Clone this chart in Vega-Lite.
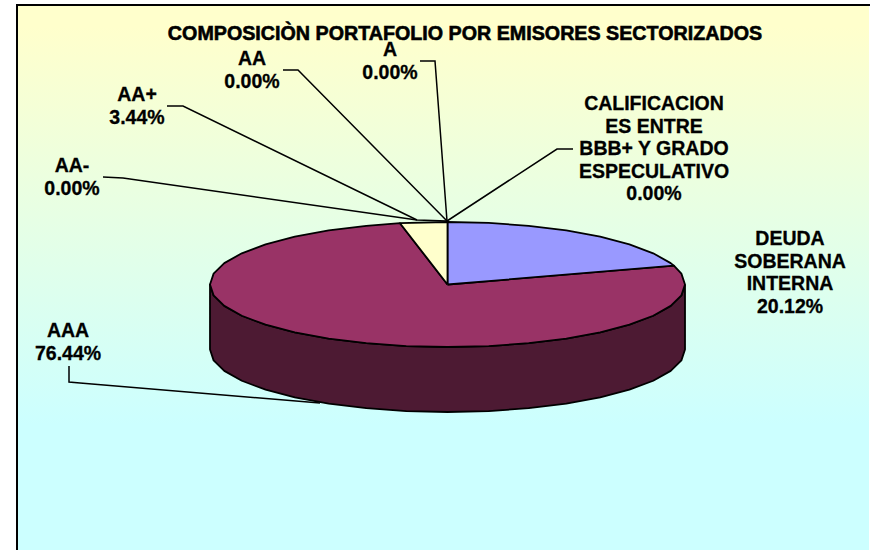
{
"$schema":"https://vega.github.io/schema/vega-lite/v6.json",
"width":870,"height":550,"padding":0,
"autosize":{"type":"none"},
"background":"white",
"config":{"view":{"stroke":null}},
"datasets":{
"panel":[{"x":17,"x2":869,"y":5,"y2":550}],
"wall":[
{"i":0,"x":685,"y":284.5},{"i":1,"x":681.4,"y":295.4},{"i":2,"x":670.7,"y":305.9},{"i":3,"x":653.2,"y":315.75},{"i":4,"x":629.4,"y":324.7},{"i":5,"x":600.2,"y":332.4},{"i":6,"x":566.3,"y":338.6},{"i":7,"x":528.7,"y":343.2},{"i":8,"x":488.7,"y":346.05},{"i":9,"x":447.5,"y":347},{"i":10,"x":406.3,"y":346.05},{"i":11,"x":366.3,"y":343.2},{"i":12,"x":328.7,"y":338.6},{"i":13,"x":294.8,"y":332.4},{"i":14,"x":265.6,"y":324.7},{"i":15,"x":241.8,"y":315.75},{"i":16,"x":224.3,"y":305.9},{"i":17,"x":213.6,"y":295.4},{"i":18,"x":210,"y":284.5},
{"i":19,"x":210,"y":349.5},{"i":20,"x":213.6,"y":360.4},{"i":21,"x":224.3,"y":370.9},{"i":22,"x":241.8,"y":380.75},{"i":23,"x":265.6,"y":389.7},{"i":24,"x":294.8,"y":397.4},{"i":25,"x":328.7,"y":403.6},{"i":26,"x":366.3,"y":408.2},{"i":27,"x":406.3,"y":411.05},{"i":28,"x":447.5,"y":412},{"i":29,"x":488.7,"y":411.05},{"i":30,"x":528.7,"y":408.2},{"i":31,"x":566.3,"y":403.6},{"i":32,"x":600.2,"y":397.4},{"i":33,"x":629.4,"y":389.7},{"i":34,"x":653.2,"y":380.75},{"i":35,"x":670.7,"y":370.9},{"i":36,"x":681.4,"y":360.4},{"i":37,"x":685,"y":349.5},{"i":38,"x":685,"y":284.5}],
"slices":[
{"slice":"AAA","i":0,"x":447.5,"y":284.5},{"slice":"AAA","i":1,"x":673.9,"y":265.6},{"slice":"AAA","i":2,"x":681.4,"y":273.6},{"slice":"AAA","i":3,"x":685,"y":284.5},{"slice":"AAA","i":4,"x":681.4,"y":295.4},{"slice":"AAA","i":5,"x":670.7,"y":305.9},{"slice":"AAA","i":6,"x":653.2,"y":315.75},{"slice":"AAA","i":7,"x":629.4,"y":324.7},{"slice":"AAA","i":8,"x":600.2,"y":332.4},{"slice":"AAA","i":9,"x":566.3,"y":338.6},{"slice":"AAA","i":10,"x":528.7,"y":343.2},{"slice":"AAA","i":11,"x":488.7,"y":346.05},{"slice":"AAA","i":12,"x":447.5,"y":347},{"slice":"AAA","i":13,"x":406.3,"y":346.05},{"slice":"AAA","i":14,"x":366.3,"y":343.2},{"slice":"AAA","i":15,"x":328.7,"y":338.6},{"slice":"AAA","i":16,"x":294.8,"y":332.4},{"slice":"AAA","i":17,"x":265.6,"y":324.7},{"slice":"AAA","i":18,"x":241.8,"y":315.75},{"slice":"AAA","i":19,"x":224.3,"y":305.9},{"slice":"AAA","i":20,"x":213.6,"y":295.4},{"slice":"AAA","i":21,"x":210,"y":284.5},{"slice":"AAA","i":22,"x":213.6,"y":273.6},{"slice":"AAA","i":23,"x":224.3,"y":263.1},{"slice":"AAA","i":24,"x":241.8,"y":253.3},{"slice":"AAA","i":25,"x":265.6,"y":244.3},{"slice":"AAA","i":26,"x":294.8,"y":236.6},{"slice":"AAA","i":27,"x":328.7,"y":230.4},{"slice":"AAA","i":28,"x":366.3,"y":225.8},{"slice":"AAA","i":29,"x":400,"y":223.2},{"slice":"AAA","i":30,"x":447.5,"y":284.5},
{"slice":"DEUDA SOBERANA INTERNA","i":0,"x":447.5,"y":284.5},{"slice":"DEUDA SOBERANA INTERNA","i":1,"x":447.5,"y":222},{"slice":"DEUDA SOBERANA INTERNA","i":2,"x":488.7,"y":222.95},{"slice":"DEUDA SOBERANA INTERNA","i":3,"x":528.7,"y":225.8},{"slice":"DEUDA SOBERANA INTERNA","i":4,"x":566.3,"y":230.4},{"slice":"DEUDA SOBERANA INTERNA","i":5,"x":600.2,"y":236.6},{"slice":"DEUDA SOBERANA INTERNA","i":6,"x":629.4,"y":244.3},{"slice":"DEUDA SOBERANA INTERNA","i":7,"x":653.2,"y":253.3},{"slice":"DEUDA SOBERANA INTERNA","i":8,"x":670.7,"y":263.1},{"slice":"DEUDA SOBERANA INTERNA","i":9,"x":673.9,"y":265.6},{"slice":"DEUDA SOBERANA INTERNA","i":10,"x":447.5,"y":284.5},
{"slice":"AA+","i":0,"x":447.5,"y":284.5},{"slice":"AA+","i":1,"x":400,"y":223.2},{"slice":"AA+","i":2,"x":447.5,"y":222},{"slice":"AA+","i":3,"x":447.5,"y":284.5}],
"leaders":[
{"name":"AA-","i":0,"x":103,"y":177},{"name":"AA-","i":1,"x":123,"y":178},{"name":"AA-","i":2,"x":417,"y":220},{"name":"AA-","i":3,"x":447,"y":221},
{"name":"AA+","i":0,"x":167,"y":106},{"name":"AA+","i":1,"x":183,"y":106},{"name":"AA+","i":2,"x":417,"y":220},
{"name":"AA","i":0,"x":283,"y":70},{"name":"AA","i":1,"x":298,"y":70},{"name":"AA","i":2,"x":447,"y":221},
{"name":"A","i":0,"x":420,"y":61},{"name":"A","i":1,"x":435,"y":61},{"name":"A","i":2,"x":447,"y":221},
{"name":"BBB","i":0,"x":573,"y":149},{"name":"BBB","i":1,"x":557,"y":149},{"name":"BBB","i":2,"x":447,"y":221},
{"name":"AAA","i":0,"x":69,"y":366},{"name":"AAA","i":1,"x":69,"y":382},{"name":"AAA","i":2,"x":80,"y":383},{"name":"AAA","i":3,"x":320,"y":403}],
"labels":[
{"label":"AA\n0.00%","x":252,"y":59},
{"label":"A\n0.00%","x":390,"y":50},
{"label":"AA+\n3.44%","x":137,"y":95},
{"label":"AA-\n0.00%","x":72,"y":166},
{"label":"CALIFICACION\nES ENTRE\nBBB+ Y GRADO\nESPECULATIVO\n0.00%","x":654,"y":104},
{"label":"DEUDA\nSOBERANA\nINTERNA\n20.12%","x":790,"y":239},
{"label":"AAA\n76.44%","x":68,"y":331}],
"title":[{"label":"COMPOSICIÒN PORTAFOLIO POR EMISORES SECTORIZADOS","x":465,"y":34}],
"frame":[{"i":0,"x":17,"y":550},{"i":1,"x":17,"y":5},{"i":2,"x":870,"y":5}]
},
"layer":[
{"data":{"name":"panel"},
 "mark":{"type":"rect","fill":{"gradient":"linear","x1":0,"y1":0,"x2":0,"y2":1,"stops":[{"offset":0,"color":"#FFFFCC"},{"offset":0.04,"color":"#FFFFCC"},{"offset":0.77,"color":"#CCFFFF"},{"offset":1,"color":"#CCFFFF"}]}},
 "encoding":{"x":{"field":"x","type":"quantitative","scale":{"domain":[0,870],"nice":false,"zero":false},"axis":null},"x2":{"field":"x2"},"y":{"field":"y","type":"quantitative","scale":{"domain":[550,0],"nice":false,"zero":false},"axis":null},"y2":{"field":"y2"}}},
{"data":{"name":"wall"},
 "mark":{"type":"line","fill":"#4D1A33","stroke":"black","strokeWidth":1.8,"strokeJoin":"round"},
 "encoding":{"x":{"field":"x","type":"quantitative","axis":null},"y":{"field":"y","type":"quantitative","axis":null},"order":{"field":"i","type":"quantitative"}}},
{"data":{"name":"slices"},
 "mark":{"type":"line","stroke":"black","strokeWidth":1.8,"strokeJoin":"round"},
 "encoding":{"x":{"field":"x","type":"quantitative","axis":null},"y":{"field":"y","type":"quantitative","axis":null},"order":{"field":"i","type":"quantitative"},
  "fill":{"field":"slice","type":"nominal","legend":null,"scale":{"domain":["DEUDA SOBERANA INTERNA","AAA","AA+"],"range":["#9999FF","#993366","#FFFFCC"]}}}},
{"data":{"name":"leaders"},
 "mark":{"type":"line","stroke":"black","strokeWidth":1.5},
 "encoding":{"x":{"field":"x","type":"quantitative","axis":null},"y":{"field":"y","type":"quantitative","axis":null},"order":{"field":"i","type":"quantitative"},"detail":{"field":"name"}}},
{"data":{"name":"labels"},
 "mark":{"type":"text","font":"Liberation Sans","fontWeight":"bold","fontSize":19.5,"lineBreak":"\n","lineHeight":22.6,"align":"center","baseline":"middle","color":"black","stroke":"black","strokeWidth":0.3},
 "encoding":{"x":{"field":"x","type":"quantitative","axis":null},"y":{"field":"y","type":"quantitative","axis":null},"text":{"field":"label"}}},
{"data":{"name":"title"},
 "mark":{"type":"text","font":"Liberation Sans","fontWeight":"bold","fontSize":19.7,"align":"center","baseline":"middle","color":"black","stroke":"black","strokeWidth":0.6},
 "encoding":{"x":{"field":"x","type":"quantitative","axis":null},"y":{"field":"y","type":"quantitative","axis":null},"text":{"field":"label"}}},
{"data":{"name":"frame"},
 "mark":{"type":"line","stroke":"black","strokeWidth":2},
 "encoding":{"x":{"field":"x","type":"quantitative","axis":null},"y":{"field":"y","type":"quantitative","axis":null},"order":{"field":"i","type":"quantitative"}}}
]
}
